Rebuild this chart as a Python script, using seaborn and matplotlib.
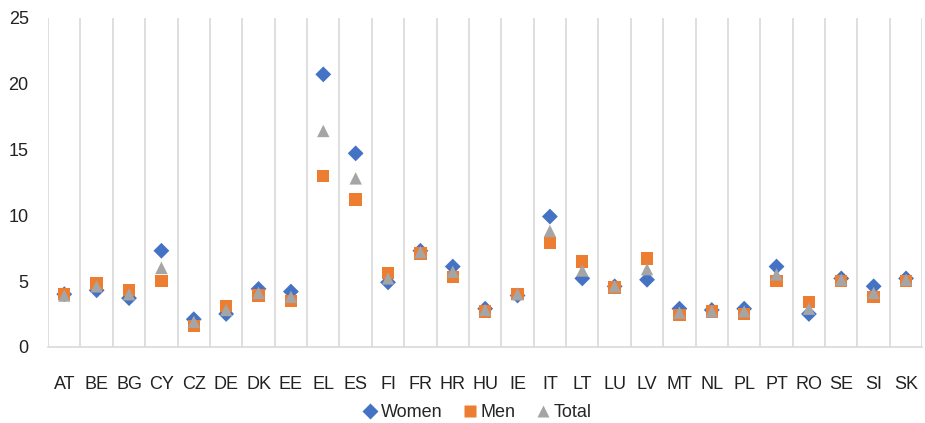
import matplotlib
matplotlib.use("Agg")
import matplotlib.pyplot as plt
import seaborn as sns
import pandas as pd
import numpy as np
from matplotlib.lines import Line2D

countries = ["AT", "BE", "BG", "CY", "CZ", "DE", "DK", "EE", "EL", "ES", "FI", "FR", "HR",
             "HU", "IE", "IT", "LT", "LU", "LV", "MT", "NL", "PL", "PT", "RO", "SE", "SI", "SK"]
women = [4.0, 4.3, 3.7, 7.3, 2.1, 2.5, 4.4, 4.2, 20.7, 14.7, 4.9, 7.3, 6.1,
         2.9, 3.9, 9.9, 5.2, 4.6, 5.1, 2.9, 2.8, 2.9, 6.1, 2.5, 5.2, 4.6, 5.2]
men = [4.0, 4.8, 4.3, 5.0, 1.6, 3.1, 3.9, 3.5, 13.0, 11.2, 5.6, 7.1, 5.3,
       2.7, 4.0, 7.9, 6.5, 4.5, 6.7, 2.4, 2.7, 2.5, 5.0, 3.4, 5.0, 3.8, 5.0]
total = [3.9, 4.6, 4.0, 6.0, 1.9, 2.8, 4.1, 3.8, 16.4, 12.8, 5.2, 7.2, 5.7,
         2.8, 4.0, 8.8, 5.8, 4.6, 5.9, 2.6, 2.7, 2.7, 5.5, 2.9, 5.1, 4.1, 5.1]
yticks = [0, 5, 10, 15, 20, 25]

series = {"Women": women, "Men": men, "Total": total}
colors = {"Women": "#4472C4", "Men": "#ED7D31", "Total": "#A5A5A5"}
markers = {"Women": "D", "Men": "s", "Total": "^"}

rows = []
for name, vals in series.items():
    for c, v in zip(countries, vals):
        rows.append({"country": c, "value": v, "series": name})
df = pd.DataFrame(rows)
df["x"] = df["country"].map({c: i for i, c in enumerate(countries)})

sns.set_style("white")
plt.rcParams["font.family"] = ["Liberation Sans", "DejaVu Sans"]

fig = plt.figure(figsize=(9.25, 4.23), dpi=100)
ax = fig.add_axes([0.052, 0.18, 0.945, 0.778])

for name in ["Women", "Men", "Total"]:
    sub = df[df["series"] == name]
    sns.scatterplot(data=sub, x="x", y="value", ax=ax, color=colors[name],
                    marker=markers[name], s=80 if name != "Women" else 65,
                    edgecolor="none", linewidth=0, legend=False, zorder=3)

n = len(countries)
ax.set_xlim(-0.5, n - 0.5)
ax.set_ylim(0, 25)
ax.set_yticks(yticks)
ax.set_xticks(range(n))
ax.set_xticklabels(countries)
ax.set_xticks(np.arange(-0.5, n, 1.0), minor=True)
ax.grid(False)
ax.grid(True, which="minor", axis="x", color="#D9D9D9", linewidth=1.2)
ax.tick_params(axis="both", which="both", length=0, labelsize=13, colors="#222222")
ax.tick_params(axis="x", pad=21)
ax.tick_params(axis="y", pad=14)
ax.set_xlabel("")
ax.set_ylabel("")
for s in ["top", "right", "left"]:
    ax.spines[s].set_visible(False)
ax.spines["bottom"].set_color("#D9D9D9")
ax.spines["bottom"].set_linewidth(1.2)

handles = [Line2D([0], [0], marker=markers[k], color="none", markerfacecolor=colors[k],
                  markeredgecolor="none", markersize=9 if k != "Women" else 8, label=k)
           for k in ["Women", "Men", "Total"]]
fig.legend(handles=handles, loc="lower center", bbox_to_anchor=(0.515, 0.0), ncol=3,
           frameon=False, fontsize=13, handletextpad=0.1, columnspacing=1.0,
           handlelength=1.0, borderaxespad=0.0, borderpad=0.1)

fig.savefig("out.png", dpi=100)
